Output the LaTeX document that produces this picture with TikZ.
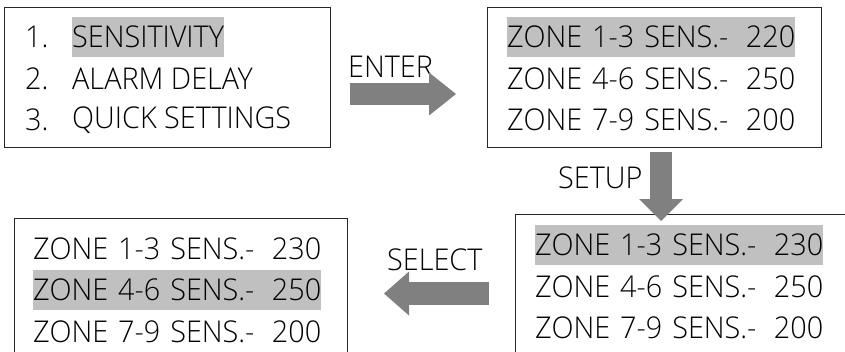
\documentclass[tikz,border=0pt]{standalone}
\usepackage{fontspec}
\IfFontExistsTF{Open Sans Light}
  {\setmainfont{Open Sans Light}[FakeStretch=0.96]}
  {\setmainfont{Open Sans}[FakeStretch=0.96]}
\usetikzlibrary{arrows.meta}

\definecolor{hlgray}{HTML}{C0C0C0}
\definecolor{arrgray}{HTML}{808080}
\definecolor{framegray}{HTML}{262626}
\newcommand{\screenfont}{\fontsize{30}{36}\selectfont}

\begin{document}
\begin{tikzpicture}[x=1pt, y=-1pt,
        screen/.style={draw=framegray, line width=1pt, inner sep=0pt, anchor=north west},
        item/.style={anchor=west, inner sep=0pt, minimum height=40pt, font=\screenfont},
        row/.style={item, text width=288pt},
        lbl/.style={anchor=base west, inner sep=0pt, font=\screenfont},
        bigarrow/.style={arrgray, line width=22pt}]
        \clip (0,0) rectangle (845,351);

        % screens
        \node[screen, minimum width=326pt, minimum height=140pt] (menu) at (4,7) {};
        \node[screen, minimum width=334pt, minimum height=140pt] (zones) at (487,7) {};
        \node[screen, minimum width=345pt, minimum height=150pt] (setup) at (515,214) {};
        \node[screen, minimum width=333pt, minimum height=150pt] (select) at (14,218) {};

        % main menu
        \node[item] (n1) at (25,37) {1.};
        \node[item] (n2) at (25,79) {2.};
        \node[item] (n3) at (25,120) {3.};
        \node[item, fill=hlgray] (m1) at (72,37) {SENSITIVITY};
        \node[item] (m2) at (72,79) {ALARM DELAY};
        \node[item] (m3) at (72,120) {QUICK SETTINGS};

        % zone values
        \node[row, fill=hlgray] (a1) at (507,37) {ZONE 1-3 SENS.-\hfill 220};
        \node[row] (a2) at (507,79) {ZONE 4-6 SENS.-\hfill 250};
        \node[row] (a3) at (507,120) {ZONE 7-9 SENS.-\hfill 200};

        \node[row, fill=hlgray] (b1) at (535,245) {ZONE 1-3 SENS.-\hfill 230};
        \node[row] (b2) at (535,287) {ZONE 4-6 SENS.-\hfill 250};
        \node[row] (b3) at (535,328) {ZONE 7-9 SENS.-\hfill 200};

        \node[row] (c1) at (33,249) {ZONE 1-3 SENS.-\hfill 230};
        \node[row, fill=hlgray] (c2) at (33,290) {ZONE 4-6 SENS.-\hfill 250};
        \node[row] (c3) at (33,332) {ZONE 7-9 SENS.-\hfill 200};

        % keys
        \node[lbl] (enterlbl) at (348,77) {ENTER};
        \node[lbl] (setuplbl) at (558,188) {SETUP};
        \node[lbl] (selectlbl) at (387,270) {SELECT};

        \coordinate (enterA) at (350,94);
        \coordinate (enterB) at (456,94);
        \coordinate (setupA) at (661,152);
        \coordinate (setupB) at (661,221);
        \coordinate (selectA) at (489,293.5);
        \coordinate (selectB) at (384,293.5);

        \draw[bigarrow, -{Triangle[width=43pt, length=27pt, line width=0pt]}] (enterA) -- (enterB);
        \draw[bigarrow, -{Triangle[width=44pt, length=22pt, line width=0pt]}] (setupA) -- (setupB);
        \draw[bigarrow, line width=23pt, -{Triangle[width=44pt, length=25pt, line width=0pt]}] (selectA) -- (selectB);
\end{tikzpicture}
\end{document}
